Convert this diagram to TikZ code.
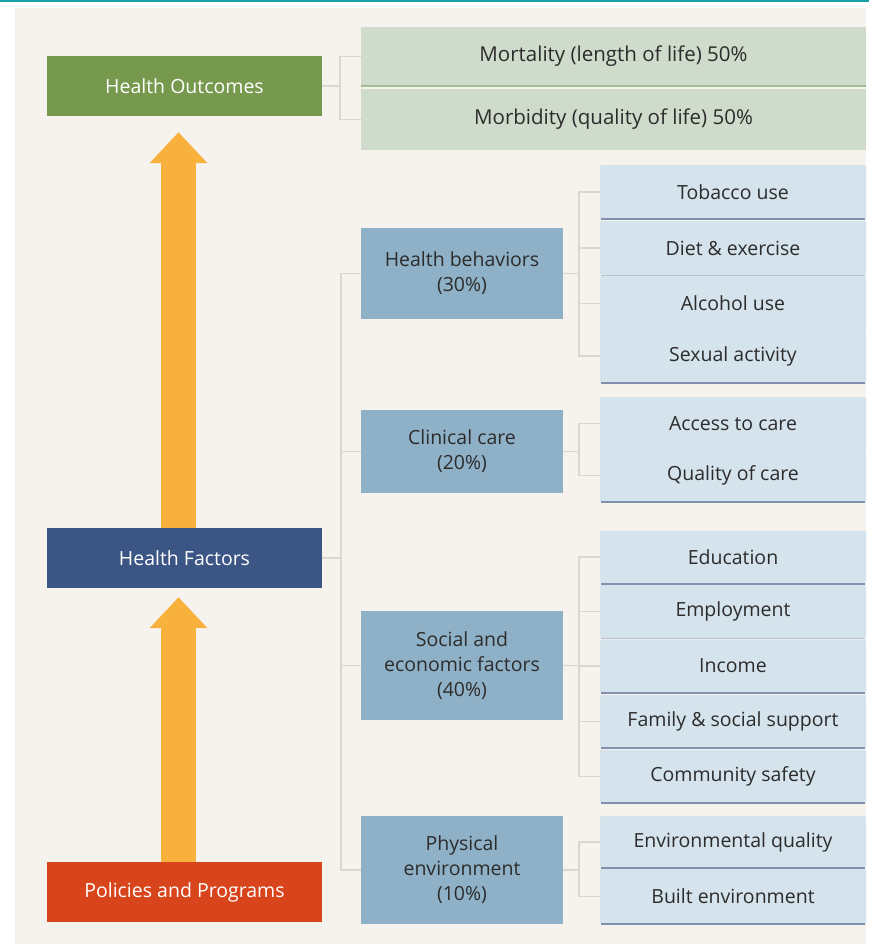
\documentclass[tikz,border=0pt]{standalone}
\usepackage{fontspec}
\setmainfont{Open Sans}
\usetikzlibrary{arrows.meta,calc}

\definecolor{outgreen}{HTML}{76994E}
\definecolor{factblue}{HTML}{3B5584}
\definecolor{polred}{HTML}{D8441B}
\definecolor{arroworange}{HTML}{F9B13E}
\definecolor{sage}{HTML}{D0DCCB}
\definecolor{sageedge}{HTML}{A3BC97}
\definecolor{groupblue}{HTML}{8FB1C7}
\definecolor{itemblue}{HTML}{D5E3EC}
\definecolor{itemedge}{HTML}{7F91AC}
\definecolor{itemedgelight}{HTML}{B4C3D3}
\definecolor{linkgrey}{HTML}{DAD6D0}
\definecolor{panelbeige}{HTML}{F6F2EE}
\definecolor{topteal}{HTML}{17A0A8}
\definecolor{textgrey}{HTML}{2C2C2C}

\begin{document}
\begin{tikzpicture}[x=1pt, y=-1pt,
  mainbox/.style={rectangle, minimum width=275, minimum height=60, text=white, font=\fontsize{19.5}{25}\selectfont},
  outbox/.style={rectangle, fill=sage, minimum width=505, text=textgrey, font=\fontsize{20.5}{25}\selectfont},
  groupbox/.style={rectangle, fill=groupblue, minimum width=202, align=center, text=textgrey, font=\fontsize{19.5}{25}\selectfont},
  itembox/.style={rectangle, rounded corners=2pt, fill=itemblue, minimum width=266, text=textgrey, font=\fontsize{19.5}{25}\selectfont},
  link/.style={draw=linkgrey, line width=1.6},
  uparrow/.style={draw=arroworange, line width=35, -{Triangle[width=56pt,length=31pt]}}
]
	% Page, panel and top rule
	\useasboundingbox (0,0) rectangle (869,944);
	\fill[white] (0,0) rectangle (869,944);
	\fill[panelbeige] (15,8) rectangle (866,944);
	\fill[topteal] (0,0) rectangle (869,2.5);

	% Left column
	\node[mainbox, fill=outgreen] (outcomes) at (184.5,86) {Health Outcomes};
	\node[mainbox, fill=factblue] (factors) at (184.5,558) {Health Factors};
	\node[mainbox, fill=polred] (policies) at (184.5,892) {Policies and Programs};

	% Arrows
	\draw[uparrow] ($(factors.north)+(-6,0)$) -- ($(outcomes.south)+(-6,16)$);
	\draw[uparrow] ($(policies.north)+(-6,0)$) -- ($(factors.south)+(-6,9)$);

	% Outcomes
	\node[outbox, minimum height=59] (mortality) at (613.5,56.5) {Mortality (length of life) 50\%};
	\node[outbox, minimum height=61] (morbidity) at (613.5,119.5) {Morbidity (quality of life) 50\%};
	\draw[draw=sageedge, line width=2] (mortality.south west) -- (mortality.south east);
	\draw[link] (outcomes.east) -- ++(18,0) coordinate (outj) |- (mortality.west);
	\draw[link] (outj) |- (morbidity.west);

	% Factor groups
	\node[groupbox, minimum height=91] (behav) at (462,273.5) {Health behaviors\\(30\%)};
	\node[groupbox, minimum height=83] (clinic) at (462,451.5) {Clinical care\\(20\%)};
	\node[groupbox, minimum height=109] (socio) at (462,665.5) {Social and\\economic factors\\(40\%)};
	\node[groupbox, minimum height=108] (physenv) at (462,870) {Physical\\environment\\(10\%)};
	\draw[link] (factors.east) -- ++(19,0) coordinate (factj);
	\foreach \g in {behav,clinic,socio,physenv}
		\draw[link] (factj) |- (\g.west);

	% Health behaviors
	\node[itembox, minimum height=54] (tobacco) at (733,192) {Tobacco use};
	\node[itembox, minimum height=54] (diet) at (733,248) {Diet \& exercise};
	\node[itembox, minimum height=55] (alcohol) at (733,303.5) {Alcohol use};
	\node[itembox, minimum height=54] (sexual) at (733,356) {Sexual activity};
	\fill[itemblue] (600,328) rectangle (866,332);
	\draw[link] (behav.east) -- ++(16,0) coordinate (behavj);
	\foreach \i in {tobacco,diet,alcohol,sexual}
		\draw[link] (behavj) |- (\i.west);

	% Clinical care
	\node[itembox, minimum height=53] (access) at (733,423.5) {Access to care};
	\node[itembox, minimum height=53] (quality) at (733,475.5) {Quality of care};
	\fill[itemblue] (600,447) rectangle (866,451);
	\draw[link] (clinic.east) -- ++(16,0) coordinate (clinicj);
	\foreach \i in {access,quality}
		\draw[link] (clinicj) |- (\i.west);

	% Social and economic factors
	\node[itembox, minimum height=53] (educ) at (733,557) {Education};
	\node[itembox, minimum height=53] (employ) at (733,611.5) {Employment};
	\node[itembox, minimum height=53] (income) at (733,666) {Income};
	\node[itembox, minimum height=53] (family) at (733,721.5) {Family \& social support};
	\node[itembox, minimum height=53] (safety) at (733,776.5) {Community safety};
	\draw[link] (socio.east) -- ++(16,0) coordinate (socioj);
	\foreach \i in {educ,employ,income,family,safety}
		\draw[link] (socioj) |- (\i.west);

	% Physical environment
	\node[itembox, minimum height=52] (envqual) at (733,842) {Environmental quality};
	\node[itembox, minimum height=55] (built) at (733,896.5) {Built environment};
	\draw[link] (physenv.east) -- ++(16,0) coordinate (physj);
	\foreach \i in {envqual,built}
		\draw[link] (physj) |- (\i.west);

	% Box bottom edges
	\foreach \i in {tobacco,sexual,quality,educ,income,family,safety,envqual,built}
		\draw[draw=itemedge, line width=1.6] ([xshift=1]\i.south west) -- ([xshift=-1]\i.south east);
	\foreach \i in {diet,employ}
		\draw[draw=itemedgelight, line width=1.2] ([xshift=1]\i.south west) -- ([xshift=-1]\i.south east);
\end{tikzpicture}
\end{document}
